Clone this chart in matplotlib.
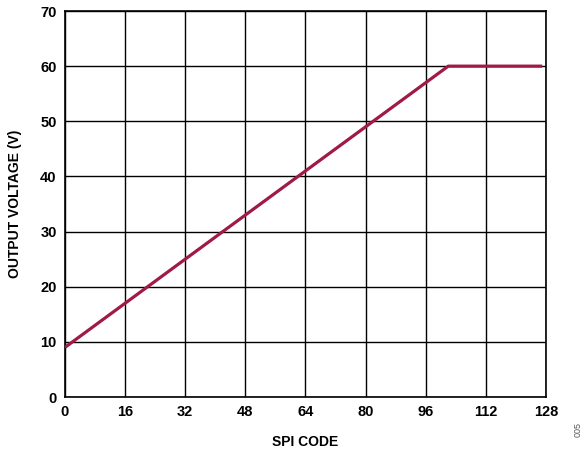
import matplotlib
matplotlib.use("Agg")
import matplotlib.pyplot as plt

# transfer curve: output voltage vs SPI code
spi_code = [0, 102, 127]
output_v = [9, 60, 60]

x_ticks = [0, 16, 32, 48, 64, 80, 96, 112, 128]
y_ticks = [0, 10, 20, 30, 40, 50, 60, 70]

plt.rcParams['font.family'] = ['Liberation Sans', 'DejaVu Sans']
plt.rcParams['font.weight'] = 'bold'

fig = plt.figure(figsize=(5.87, 4.53), dpi=100)
ax = fig.add_axes([0.1107, 0.1236, 0.8194, 0.8521])

ax.plot(spi_code, output_v, color='#A01A49', lw=2.3, solid_capstyle='butt', zorder=3)

ax.set_xlim(0, 128)
ax.set_ylim(0, 70)
ax.set_xticks(x_ticks)
ax.set_yticks(y_ticks)
ax.grid(True, color='black', lw=1.0)
for s in ax.spines.values():
    s.set_linewidth(1.2)
ax.tick_params(length=0, pad=6, labelsize=10.5)
for lab in ax.get_xticklabels() + ax.get_yticklabels():
    lab.set_fontweight('bold')

ax.set_xlabel('SPI CODE', fontsize=10, fontweight='bold', labelpad=11)
ax.set_ylabel('OUTPUT VOLTAGE (V)', fontsize=10, fontweight='bold', labelpad=13)

fig.text(0.985, 0.035, '005', rotation=90, fontsize=6.5, color='#555555',
         fontweight='normal', ha='center', va='bottom')

fig.savefig('out.png', dpi=100)
